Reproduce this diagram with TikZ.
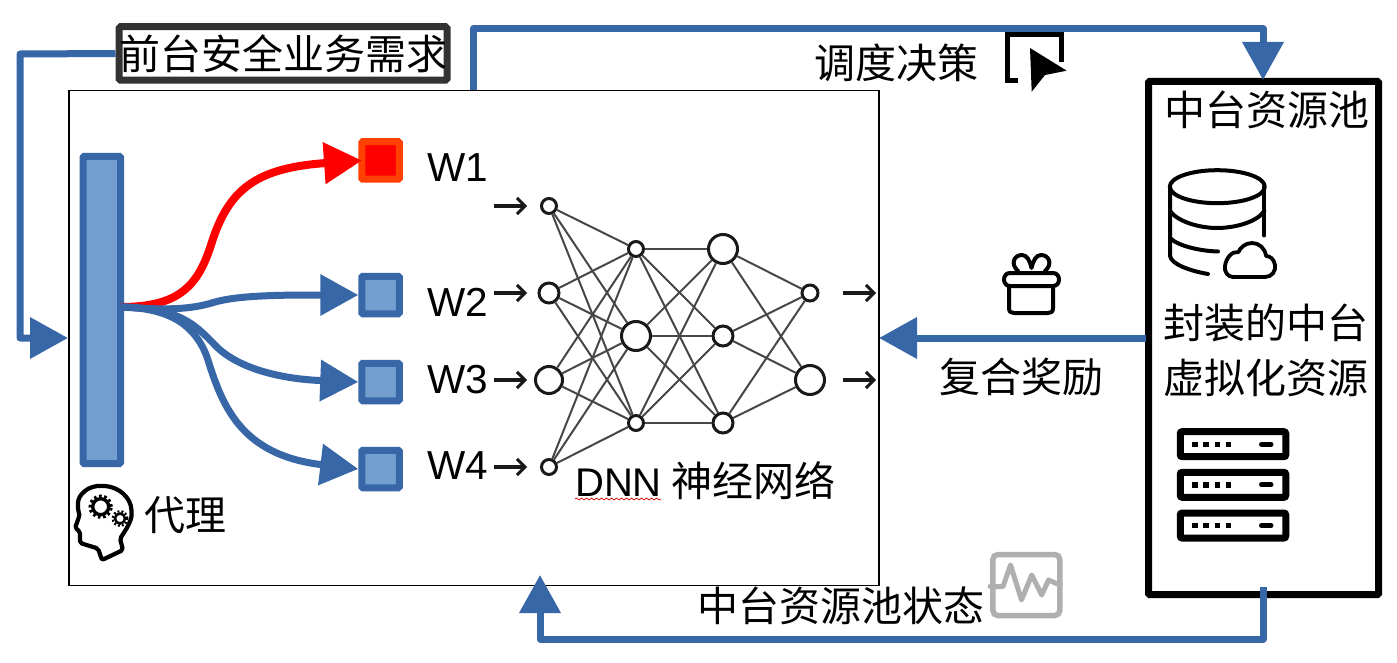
\documentclass[tikz,border=0pt]{standalone}
\usepackage{fontspec}
\usetikzlibrary{arrows.meta,decorations.pathmorphing}
\setmainfont{Liberation Sans}
\newfontfamily\cjk{Noto Sans CJK SC}
\definecolor{flowblue}{HTML}{3767A6}
\definecolor{fillblue}{HTML}{729FCF}
\definecolor{hotorange}{HTML}{FF4000}
\definecolor{icongray}{HTML}{AFAFAF}
\tikzset{
  x=1pt,y=-1pt,
  txt/.style={inner sep=0pt,font=\fontsize{41}{44}\selectfont\cjk},
  wlabel/.style={inner sep=0pt,anchor=base west,font=\fontsize{40.5}{44}\selectfont},
  flow/.style={draw=flowblue,line width=7pt,line join=round,-{Triangle[length=38pt,width=40pt]}},
  redflow/.style={draw=red,line width=8pt,-{Triangle[length=38pt,width=40pt]}},
  action/.style={draw=flowblue,fill=fillblue,line width=7pt,rounded corners=1pt,inner sep=0pt,minimum width=37.5pt,minimum height=37.5pt},
  neuron/.style={circle,draw=black!90,fill=white,line width=3pt,inner sep=0pt},
  link/.style={draw=black!72,line width=2pt},
  smallarrow/.style={draw=black!90,line width=3.2pt,-{Straight Barb[length=8pt,width=16pt,line width=3pt]}},
  icon/.style={draw=black,line width=4pt,line cap=round,line join=round},
  rack/.style={draw=black,line width=7pt,rounded corners=2pt,inner sep=0pt,minimum width=105.5pt,minimum height=25pt},
}
\begin{document}
\begin{tikzpicture}
\useasboundingbox (0,0) rectangle (1397,663);
% main panel
\node[draw=black,line width=1.5pt,fill=white,inner sep=0pt,anchor=north west,minimum width=810pt,minimum height=494.5pt] (panel) at (68,90) {};
% resource pool
\node[draw=black,line width=7pt,fill=white,rounded corners=1pt,inner sep=0pt,anchor=north west,minimum width=230pt,minimum height=513pt] (pool) at (1145,78) {};
% demand label
\coordinate (lc1) at (20,54);
\coordinate (lc2) at (20,338);
\coordinate (ltip) at (68,338);
\node[draw=black!80,line width=7pt,rounded corners=1.5pt,fill=white,inner sep=0pt,minimum width=326pt,minimum height=53.5pt,txt] (req) at (283,53.5) {前台安全业务需求};
\draw[flow] (req.west) -- (lc1) -- (lc2) -- (ltip);
% decision
\coordinate (ds) at (473,90);
\coordinate (dc1) at (473,29);
\coordinate (dc2) at (1263,29);
\coordinate (dtip) at (1263,80);
\draw[flow] (ds) -- (dc1) -- (dc2) -- (dtip);
% reward
\coordinate (rs) at (1146,338);
\coordinate (rtip) at (879,338);
\draw[flow] (rs) -- (rtip);
% state
\coordinate (ss) at (1263,587);
\coordinate (sc1) at (1263,639);
\coordinate (sc2) at (540,639);
\coordinate (stip) at (540,575);
\draw[flow] (ss) -- (sc1) -- (sc2) -- (stip);
% agent bar
\node[draw=flowblue,fill=fillblue,line width=7pt,rounded corners=1pt,inner sep=0pt,anchor=north west,minimum width=37.5pt,minimum height=307pt] (agent) at (79.5,153) {};
\coordinate (ao) at (121,307);
% action squares
\node[action,draw=hotorange,fill=red] (a1) at (380.5,160.5) {};
\node[action] (a2) at (380.5,295) {};
\node[action] (a3) at (380.5,382) {};
\node[action] (a4) at (380.5,469) {};
\coordinate (t1) at (362,160.5);
\draw[redflow] (ao) .. controls (180,307) and (198,285) .. (211,245) .. controls (228,190) and (255,168) .. (t1);
\draw[flow] (ao) .. controls (165,310) and (190,310) .. (215,302) .. controls (240,295) and (285,295) .. (a2.west);
\draw[flow] (ao) .. controls (180,308) and (195,325) .. (213,343) .. controls (235,368) and (280,379) .. (a3.west);
\draw[flow] (ao) .. controls (170,308) and (195,325) .. (207,357) .. controls (222,405) and (240,455) .. (a4.west);
% labels
\node[wlabel] (w1) at (427,182) {W1};
\node[wlabel] (w2) at (427,316) {W2};
\node[wlabel] (w3) at (427,393) {W3};
\node[wlabel] (w4) at (427,479) {W4};
% neural network
\node[neuron,minimum size=15pt] (n11) at (549,206) {};
\node[neuron,minimum size=20pt] (n12) at (549,293) {};
\node[neuron,minimum size=27pt] (n13) at (549,380) {};
\node[neuron,minimum size=15pt] (n14) at (549,467) {};
\node[neuron,minimum size=15pt] (n21) at (636,249) {};
\node[neuron,minimum size=29pt] (n22) at (636,336) {};
\node[neuron,minimum size=15pt] (n23) at (636,423) {};
\node[neuron,minimum size=29pt] (n31) at (723,249) {};
\node[neuron,minimum size=20pt] (n32) at (723,336) {};
\node[neuron,minimum size=20pt] (n33) at (723,423) {};
\node[neuron,minimum size=16pt] (n41) at (810,293) {};
\node[neuron,minimum size=29pt] (n42) at (810,380) {};
\foreach \a in {1,2,3,4} \foreach \b in {1,2,3} \draw[link] (n1\a) -- (n2\b);
\foreach \a in {1,2,3} \foreach \b in {1,2,3} \draw[link] (n2\a) -- (n3\b);
\foreach \a in {1,2,3} \foreach \b in {1,2} \draw[link] (n3\a) -- (n4\b);
\coordinate (i1) at (494,206); \coordinate (i2) at (494,293); \coordinate (i3) at (494,380); \coordinate (i4) at (494,467);
\coordinate (e1) at (527,206); \coordinate (e2) at (527,293); \coordinate (e3) at (527,380); \coordinate (e4) at (527,467);
\foreach \k in {1,2,3,4} \draw[smallarrow] (i\k) -- (e\k);
\coordinate (o1) at (843,293); \coordinate (o2) at (843,380);
\coordinate (f1) at (876,293); \coordinate (f2) at (876,380);
\foreach \k in {1,2} \draw[smallarrow] (o\k) -- (f\k);
\node[inner sep=0pt,anchor=base west,font=\fontsize{40}{44}\selectfont] (dnn) at (575,496) {DNN\hspace{10pt}{\fontsize{41}{44}\selectfont\cjk 神经网络}};
\coordinate (sq1) at (575,499); \coordinate (sq2) at (661,499);
\draw[red!80!black,line width=0.7pt,decorate,decoration={snake,amplitude=1pt,segment length=5pt}] (sq1) -- (sq2);
% texts
\node[txt] (agentlabel) at (185.5,515) {代理};
\node[txt] (poolt) at (1267,110) {中台资源池};
\node[txt] (pkg1) at (1266,323) {封装的中台};
\node[txt] (pkg2) at (1266,378) {虚拟化资源};
\node[txt] (dec) at (896.5,63) {调度决策};
\node[txt] (rew) at (1021,377) {复合奖励};
\node[txt] (sta) at (840.5,606) {中台资源池状态};
% head icon
\draw[icon,line width=4.2pt,rounded corners=2pt] (102,560) -- (123,550) -- (120,538.5) .. controls (126,530) and (132,520) .. (131.5,512) .. controls (131,497) and (118,487) .. (104,486) .. controls (88,485) and (78,495) .. (78,505) .. controls (78,511) and (79.5,514) .. (79,517) -- (75,528) -- (80,531.5) -- (80,543) -- (98,548.5) -- cycle;
\draw[line width=3.4pt] (100.7,506.7) circle (8pt);
\draw[line width=3.2pt,dash pattern=on 2.6pt off 2.6pt] (100.7,506.7) circle (10.6pt);
\draw[line width=2.5pt] (120,518.5) circle (5pt);
\draw[line width=2.2pt,dash pattern=on 2pt off 2pt] (120,518.5) circle (7.3pt);
% cursor icon
\draw[draw=black,line width=5pt,line join=miter] (1018,80.3) -- (1007,80.3) -- (1007,34.2) -- (1061.7,34.2) -- (1061.7,61.7);
\fill[black] (1030,48) -- (1066.7,70.7) -- (1045,75) -- (1031.7,91.7) -- cycle;
% gift icon
\draw[icon] (1009,287) -- (1009,308) .. controls (1009,312) and (1011,313) .. (1014,313) -- (1048,313) .. controls (1051,313) and (1053,312) .. (1053,308) -- (1053,287);
\draw[icon] (1010,273) -- (1053,273) .. controls (1061,273) and (1061,286) .. (1053,286) -- (1010,286) .. controls (1002,286) and (1002,273) .. (1010,273) -- cycle;
\draw[icon] (1018,271) .. controls (1010,264) and (1014,255) .. (1022,255) .. controls (1027,255) and (1030,261) .. (1031.5,268) .. controls (1033,261) and (1036,255) .. (1041,255) .. controls (1049,255) and (1053,264) .. (1045,271);
% database icon
\draw[icon] (1217.3,186.7) ellipse (47.5pt and 16.5pt);
\draw[icon] (1170,187) -- (1170,256) .. controls (1171,264) and (1190,271) .. (1208,274);
\draw[icon] (1264.3,187) -- (1264.3,235.5);
\draw[icon] (1170,211) .. controls (1178,222) and (1200,228) .. (1217,228) .. controls (1235,228) and (1257,222) .. (1264.3,211);
\draw[icon] (1170,238) .. controls (1178,246) and (1200,251) .. (1218,251.5);
% cloud icon
\draw[icon,line width=3.8pt] (1233,277) -- (1265,277) .. controls (1272,277) and (1276,271) .. (1275,265) .. controls (1274,259) and (1270,256) .. (1266,256) .. controls (1265,248) and (1259,243) .. (1252,243) .. controls (1245,243) and (1240,248) .. (1238.5,252) .. controls (1232,251) and (1226,258) .. (1225,266) .. controls (1224,272) and (1228,277) .. (1233,277) -- cycle;
% server icons
\node[rack] (r1) at (1233,444.2) {};
\node[rack] (r2) at (1233,484.8) {};
\node[rack] (r3) at (1233,525.5) {};
\foreach \r in {r1,r2,r3} {
  \foreach \dx in {-38,-27,-15.7,-4.7} \fill[black] ([xshift=\dx pt-2.7pt,yshift=2.7pt]\r.center) rectangle ++(5.4,5.4);
  \draw[line width=5pt,line cap=round] ([xshift=28.5pt]\r.center) -- ([xshift=38pt]\r.center);
}
% monitor icon
\node[draw=icongray,line width=5.5pt,rounded corners=5pt,inner sep=0pt,minimum width=67pt,minimum height=61pt] (mon) at (1026.3,585) {};
\draw[draw=icongray,line width=5pt,line join=round,line cap=round] (mon.west |- 0,586.5) -- (1003,586.5) -- (1010.5,565) -- (1021.5,600) -- (1031.7,575) -- (1041.7,595) -- (1048.5,580) -- (1060,585);
\end{tikzpicture}
\end{document}
